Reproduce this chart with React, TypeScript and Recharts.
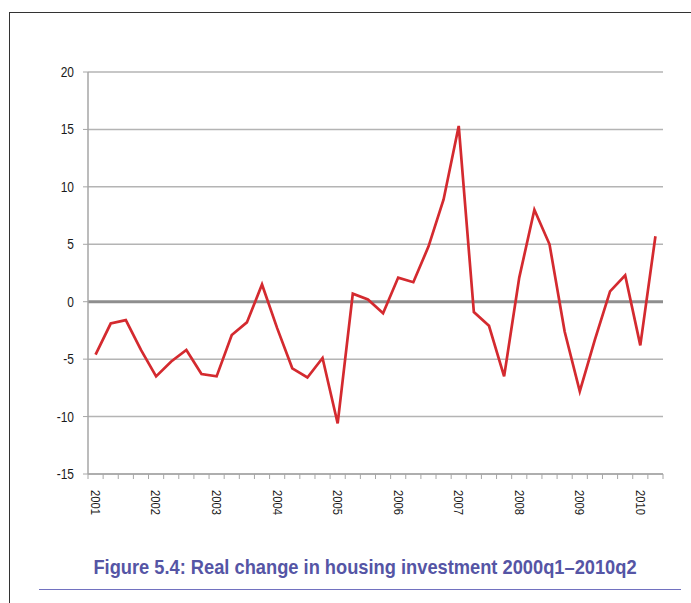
import React from "react";
import { LineChart, Line, XAxis, YAxis, CartesianGrid, ReferenceLine } from "recharts";

// quarterly categories 2001q1 .. 2010q2
const years = [2001, 2002, 2003, 2004, 2005, 2006, 2007, 2008, 2009, 2010];
const quarterNames = ["q1", "q2", "q3", "q4"];
const quarters = years.flatMap((y) => quarterNames.map((q) => `${y}${q}`)).slice(0, 38);

// real change in housing investment, %
const change = [
  -4.6, -1.9, -1.6, -4.2, -6.5, -5.2, -4.2, -6.3, -6.5, -2.9,
  -1.8, 1.5, -2.3, -5.8, -6.6, -4.9, -10.6, 0.7, 0.2, -1.0,
  2.1, 1.7, 4.8, 8.9, 15.3, -0.9, -2.1, -6.5, 2.1, 8.0,
  5.0, -2.6, -7.8, -3.3, 0.9, 2.3, -3.8, 5.7,
];

const yTicks = [-15, -10, -5, 0, 5, 10, 15, 20];

const data = quarters.map((q, i) => ({ q, value: change[i] }));

const FONT = "'Liberation Sans', Arial, sans-serif";
const PLOT_LEFT = 88;
const PLOT_RIGHT = 663;
const HALF = (PLOT_RIGHT - PLOT_LEFT) / (quarters.length * 2);
const AXIS = "#a6a6a6";

function XTick(props: any) {
  const { x, y, payload, index } = props;
  const label = index % 4 === 0 ? String(payload.value).slice(0, 4) : null;
  return (
    <g>
      <line x1={x - HALF} y1={y} x2={x - HALF} y2={y + 5} stroke={AXIS} />
      {index === quarters.length - 1 && (
        <line x1={x + HALF} y1={y} x2={x + HALF} y2={y + 5} stroke={AXIS} />
      )}
      {label && (
        <text
          transform={`translate(${x},${y + 16}) rotate(90) scale(0.9,1.05)`}
          textAnchor="start"
          dy="0.35em"
          fontSize={12.5}
          fontFamily={FONT}
          fill="#1a1a1a"
        >
          {label}
        </text>
      )}
    </g>
  );
}

function YTick(props: any) {
  const { x, y, payload } = props;
  return (
    <text
      transform={`translate(${x + 1},${y}) scale(0.92,1.08)`}
      textAnchor="end"
      dy="0.35em"
      fontSize={13}
      fontFamily={FONT}
      fill="#1a1a1a"
    >
      {payload.value}
    </text>
  );
}

export default function App() {
  return (
    <div style={{ position: "absolute", left: 0, top: 0, width: 691, height: 603, background: "#fff", overflow: "hidden" }}>
      <div style={{ position: "absolute", left: 9, top: 12, width: 720, height: 620, borderTop: "1px solid #333", borderLeft: "1px solid #333" }} />
      <div style={{ position: "absolute", left: 0, top: 0 }}>
        <LineChart width={691} height={520} data={data} margin={{ top: 72, right: 28, left: 0, bottom: 0 }}>
          <CartesianGrid vertical={false} stroke="#b4b4b4" strokeWidth={1.5} />
          <XAxis
            dataKey="q"
            interval={0}
            padding={{ left: HALF, right: HALF }}
            height={46}
            tickSize={0}
            tickMargin={0}
            tickLine={false}
            axisLine={{ stroke: AXIS, strokeWidth: 1.5 }}
            tick={<XTick />}
          />
          <YAxis
            domain={[-15, 20]}
            ticks={yTicks}
            width={PLOT_LEFT}
            tickSize={5}
            tickMargin={10}
            tickLine={{ stroke: AXIS }}
            axisLine={{ stroke: AXIS, strokeWidth: 1.5 }}
            tick={<YTick />}
          />
          <ReferenceLine y={0} stroke="#8e8e8e" strokeWidth={3} />
          <Line
            type="linear"
            dataKey="value"
            stroke="#d42a2f"
            strokeWidth={2.7}
            dot={false}
            isAnimationActive={false}
          />
        </LineChart>
      </div>
      <div
        style={{
          position: "absolute",
          left: 365,
          top: 555,
          whiteSpace: "nowrap",
          transform: "translateX(-50%) scaleX(0.87)",
          fontFamily: FONT,
          fontWeight: "bold",
          fontSize: 21,
          color: "#5555a5",
        }}
      >
        Figure 5.4: Real change in housing investment 2000q1–2010q2
      </div>
      <div style={{ position: "absolute", left: 39, top: 589, width: 642, height: 1, background: "#7272c0" }} />
    </div>
  );
}
